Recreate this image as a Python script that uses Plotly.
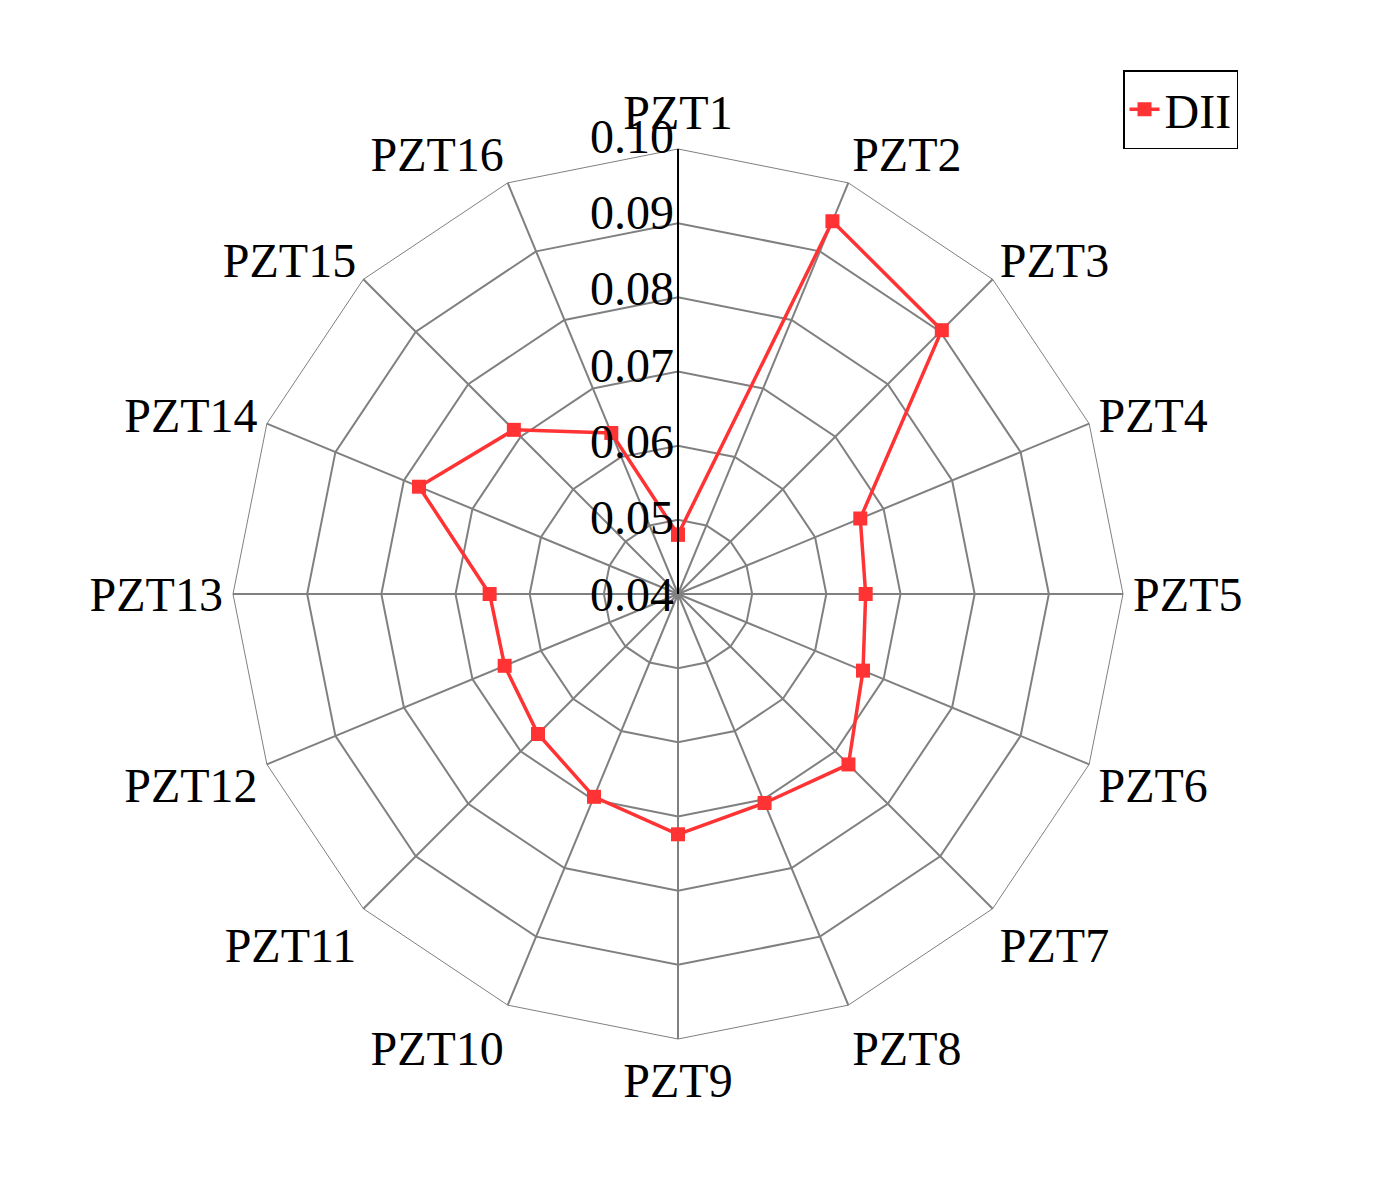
import plotly.graph_objects as go

sensors = ["PZT%d" % i for i in range(1, 17)]
dii = [0.048, 0.0944, 0.0903, 0.0666, 0.0653, 0.0670, 0.0725, 0.0705,
       0.0724, 0.0696, 0.0667, 0.0653, 0.0654, 0.0778, 0.0713, 0.0635]
r_ticks = [0.04, 0.05, 0.06, 0.07, 0.08, 0.09, 0.10]
r_min, r_max = 0.04, 0.10

font = "Times New Roman, Liberation Serif, serif"

fig = go.Figure()
fig.add_trace(go.Scatterpolar(
    r=dii + dii[:1], theta=sensors + sensors[:1], mode="lines+markers",
    name="DII", showlegend=True, line=dict(color="#ff3333", width=3.5),
    marker=dict(symbol="square", size=14, color="#ff3333")))

# radial tick labels drawn upright, left of the vertical spoke
for v in r_ticks:
    fig.add_annotation(x=0.5, y=0.5 + (v - r_min) / (r_max - r_min) * 0.5,
                       xref="paper", yref="paper", text="%.2f" % v,
                       showarrow=False, xanchor="right", yanchor="middle",
                       xshift=-2, font=dict(size=48))

fig.update_layout(
    width=1391, height=1181,
    margin=dict(l=225, r=250, t=128, b=137),
    paper_bgcolor="white",
    font=dict(family=font, size=48, color="black"),
    polar=dict(
        bgcolor="white",
        gridshape="linear",
        angularaxis=dict(direction="clockwise", rotation=90,
                         linecolor="gray", gridcolor="gray", gridwidth=1.5,
                         showline=True, ticks=""),
        radialaxis=dict(range=[r_min, r_max], dtick=0.01, angle=90,
                        showticklabels=False,
                        showline=True, linecolor="black", linewidth=2,
                        gridcolor="gray", gridwidth=1.5, ticks=""),
    ),
    legend=dict(xref="container", yref="container", x=0.8016, y=0.9475,
                xanchor="left", yanchor="top", bordercolor="black",
                borderwidth=1.5, bgcolor="white", font=dict(size=48)),
)

fig.write_html("out.html")
